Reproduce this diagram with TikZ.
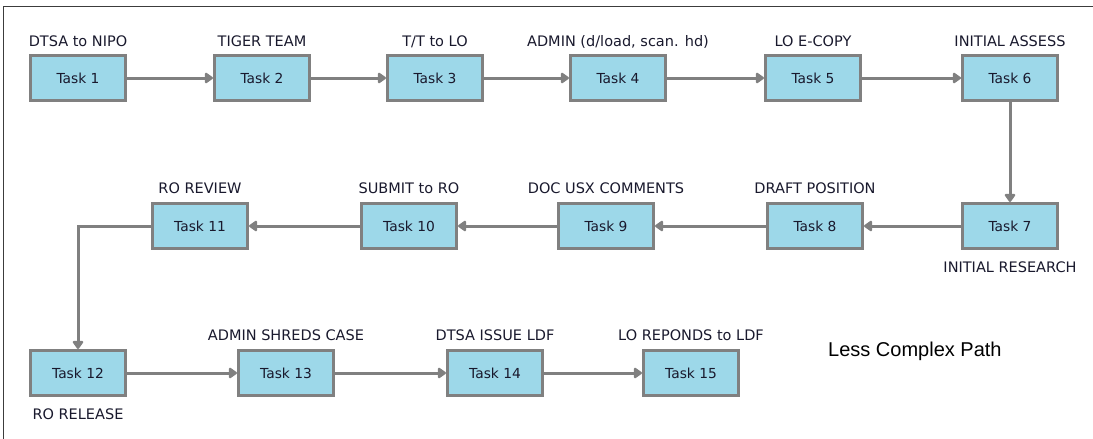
\documentclass[tikz,border=0pt]{standalone}
\usepackage{fontspec}
\setmainfont{DejaVu Sans}
\newfontfamily\notefont{Liberation Sans}
\usetikzlibrary{arrows.meta}
\definecolor{boxfill}{RGB}{157,216,233}
\definecolor{boxline}{RGB}{128,128,128}
\definecolor{txt}{RGB}{25,25,45}
\definecolor{framec}{RGB}{60,60,60}
\tikzset{
  task/.style={draw=boxline, fill=boxfill, line width=3pt, minimum width=95pt, minimum height=45pt, inner sep=0pt, text=txt, font=\fontsize{13.8}{16}\selectfont},
  lab/.style={anchor=base, inner sep=0pt, text=txt, font=\fontsize{14.5}{17}\selectfont},
  conn/.style={draw=boxline, line width=3pt, -{Triangle[length=9pt,width=12pt,round]}},
  frame/.style={draw=framec, line width=1pt}
}
\begin{document}
\begin{tikzpicture}[x=1pt,y=-1pt]
\useasboundingbox (0,0) rectangle (1093,439);
\draw[frame] (3,439) -- (3,6) -- (1093,6);
% row 1
\node[task] (t1) at (78,78) {Task 1};
\node[task] (t2) at (262,78) {Task 2};
\node[task] (t3) at (435,78) {Task 3};
\node[task] (t4) at (618,78) {Task 4};
\node[task] (t5) at (813,78) {Task 5};
\node[task] (t6) at (1010,78) {Task 6};
% row 2
\node[task] (t7) at (1010,226) {Task 7};
\node[task] (t8) at (815,226) {Task 8};
\node[task] (t9) at (606,226) {Task 9};
\node[task] (t10) at (409,226) {Task 10};
\node[task] (t11) at (200,226) {Task 11};
% row 3
\node[task] (t12) at (78,373) {Task 12};
\node[task] (t13) at (286,373) {Task 13};
\node[task] (t14) at (495,373) {Task 14};
\node[task] (t15) at (691,373) {Task 15};
% labels
\node[lab] (l1) at (78,46) {DTSA to NIPO};
\node[lab] (l2) at (262,46) {TIGER TEAM};
\node[lab] (l3) at (435,46) {T/T to LO};
\node[lab] (l4) at (618,46) {ADMIN (d/load, scan. hd)};
\node[lab] (l5) at (813,46) {LO E-COPY};
\node[lab] (l6) at (1010,46) {INITIAL ASSESS};
\node[lab] (l7) at (1010,272) {INITIAL RESEARCH};
\node[lab] (l8) at (815,193) {DRAFT POSITION};
\node[lab] (l9) at (606,193) {DOC USX COMMENTS};
\node[lab] (l10) at (409,193) {SUBMIT to RO};
\node[lab] (l11) at (200,193) {RO REVIEW};
\node[lab] (l12) at (78,419) {RO RELEASE};
\node[lab] (l13) at (286,340) {ADMIN SHREDS CASE};
\node[lab] (l14) at (495,340) {DTSA ISSUE LDF};
\node[lab] (l15) at (691,340) {LO REPONDS to LDF};
\node[anchor=base west, inner sep=0pt, text=black, font=\notefont\fontsize{20}{24}\selectfont] (note) at (828,356) {Less Complex Path};
% connectors
\draw[conn] (t1) -- (t2);
\draw[conn] (t2) -- (t3);
\draw[conn] (t3) -- (t4);
\draw[conn] (t4) -- (t5);
\draw[conn] (t5) -- (t6);
\draw[conn] (t6) -- (t7);
\draw[conn] (t7) -- (t8);
\draw[conn] (t8) -- (t9);
\draw[conn] (t9) -- (t10);
\draw[conn] (t10) -- (t11);
\draw[conn] (t11.west) -| (t12.north);
\draw[conn] (t12) -- (t13);
\draw[conn] (t13) -- (t14);
\draw[conn] (t14) -- (t15);
\end{tikzpicture}
\end{document}
